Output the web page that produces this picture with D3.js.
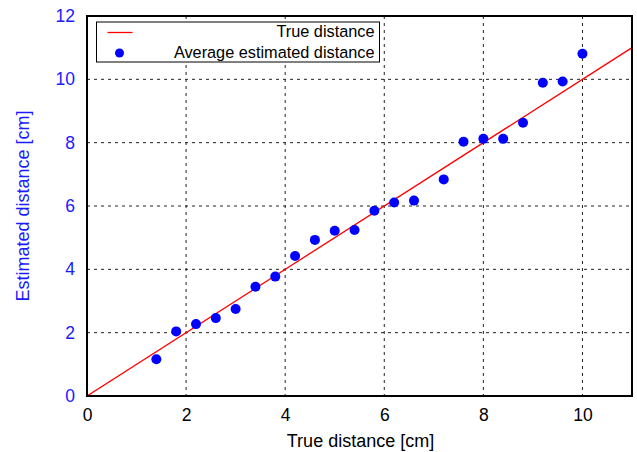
<!DOCTYPE html>
<html lang="en">
<head>
  <meta charset="UTF-8">
  <title>distance-chart</title>
  <script src="https://cdn.jsdelivr.net/npm/d3@7"></script>
  <style>
    body { margin: 0; background: #fff; }
    text { font-family: "Liberation Sans", Arial, sans-serif; }
  </style>
</head>
<body>
<script>
// measured positions [cm]
let trueDist = [1.4, 1.8, 2.2, 2.6, 3.0, 3.4, 3.8, 4.2, 4.6, 5.0, 5.4, 5.8, 6.2, 6.6, 7.2, 7.6, 8.0, 8.4, 8.8, 9.2, 9.6, 10.0];
let estDist = [1.16, 2.04, 2.27, 2.46, 2.75, 3.45, 3.77, 4.42, 4.93, 5.22, 5.24, 5.85, 6.11, 6.17, 6.84, 8.03, 8.12, 8.12, 8.63, 9.89, 9.93, 10.81];
let idealLine = [0, 11];
let xTicks = [0, 2, 4, 6, 8, 10];
let yTicks = [0, 2, 4, 6, 8, 10, 12];

let width = 637, height = 452;
let margins = {top: 16, left: 87, right: 5, bottom: 56};
let w = width - margins.left - margins.right;
let h = height - margins.top - margins.bottom;

let x = d3.scaleLinear().domain([0, 11]).range([0, w]);
let y = d3.scaleLinear().domain([0, 12]).range([h, 0]);

let svg = d3.select('body').append('svg')
  .attr('width', width)
  .attr('height', height);

let g = svg.append('g')
  .attr('transform', 'translate(' + margins.left + ',' + margins.top + ')');

svg.append('defs').append('clipPath')
  .attr('id', 'plot-clip')
  .append('rect')
  .attr('width', w)
  .attr('height', h);

// grid
g.append('g').selectAll('line.vg')
  .data(xTicks.filter(d => d > 0))
  .enter().append('line')
  .attr('x1', d => x(d)).attr('x2', d => x(d))
  .attr('y1', 0).attr('y2', h)
  .attr('stroke', '#222').attr('stroke-width', 1)
  .attr('stroke-dasharray', '3,4');

g.append('g').selectAll('line.hg')
  .data(yTicks.filter(d => d > 0 && d < 12))
  .enter().append('line')
  .attr('x1', 0).attr('x2', w)
  .attr('y1', d => y(d)).attr('y2', d => y(d))
  .attr('stroke', '#222').attr('stroke-width', 1)
  .attr('stroke-dasharray', '3,4');

// axes
let xAxis = d3.axisBottom(x).tickValues(xTicks).tickSize(0).tickPadding(13);
let yAxis = d3.axisLeft(y).tickValues(yTicks).tickSize(0).tickPadding(12);

let xg = g.append('g')
  .attr('transform', 'translate(0,' + h + ')')
  .call(xAxis);
xg.select('.domain').remove();
xg.selectAll('text').attr('font-size', 17.5).attr('fill', '#000')
  .attr('font-family', '"Liberation Sans", Arial, sans-serif');

let yg = g.append('g').call(yAxis);
yg.select('.domain').remove();
yg.selectAll('text').attr('font-size', 17.5).attr('fill', '#1a1aff')
  .attr('font-family', '"Liberation Sans", Arial, sans-serif');

// ideal line
let line = d3.line().x(d => x(d)).y(d => y(d));
g.append('path')
  .datum(idealLine)
  .attr('d', line)
  .attr('clip-path', 'url(#plot-clip)')
  .attr('fill', 'none')
  .attr('stroke', '#ff0000')
  .attr('stroke-width', 1.3);

// points
g.append('g').selectAll('circle')
  .data(trueDist)
  .enter().append('circle')
  .attr('cx', d => x(d))
  .attr('cy', (d, i) => y(estDist[i]))
  .attr('r', 5)
  .attr('fill', '#0000ff');

// frame
g.append('rect')
  .attr('width', w).attr('height', h)
  .attr('fill', 'none')
  .attr('stroke', '#000')
  .attr('stroke-width', 2);

// legend
let lg = g.append('g').attr('transform', 'translate(' + (96.5 - margins.left) + ',' + (22 - margins.top) + ')');
lg.append('rect')
  .attr('width', 283).attr('height', 40)
  .attr('fill', '#fff')
  .attr('stroke', '#000').attr('stroke-width', 1);
lg.append('line')
  .attr('x1', 11).attr('x2', 36)
  .attr('y1', 10.5).attr('y2', 10.5)
  .attr('stroke', '#ff0000').attr('stroke-width', 1.3);
lg.append('circle')
  .attr('cx', 23).attr('cy', 31).attr('r', 4.5)
  .attr('fill', '#0000ff');
lg.append('text')
  .attr('x', 278).attr('y', 15)
  .attr('text-anchor', 'end')
  .attr('font-size', 16.3)
  .text('True distance');
lg.append('text')
  .attr('x', 278).attr('y', 36)
  .attr('text-anchor', 'end')
  .attr('font-size', 16.3)
  .text('Average estimated distance');

// axis titles
svg.append('text')
  .attr('x', 360.5)
  .attr('y', 446.5)
  .attr('text-anchor', 'middle')
  .attr('font-size', 18)
  .text('True distance [cm]');

svg.append('text')
  .attr('transform', 'translate(29,' + 206 + ') rotate(-90)')
  .attr('text-anchor', 'middle')
  .attr('font-size', 18)
  .attr('fill', '#1a1aff')
  .text('Estimated distance [cm]');
</script>
</body>
</html>
